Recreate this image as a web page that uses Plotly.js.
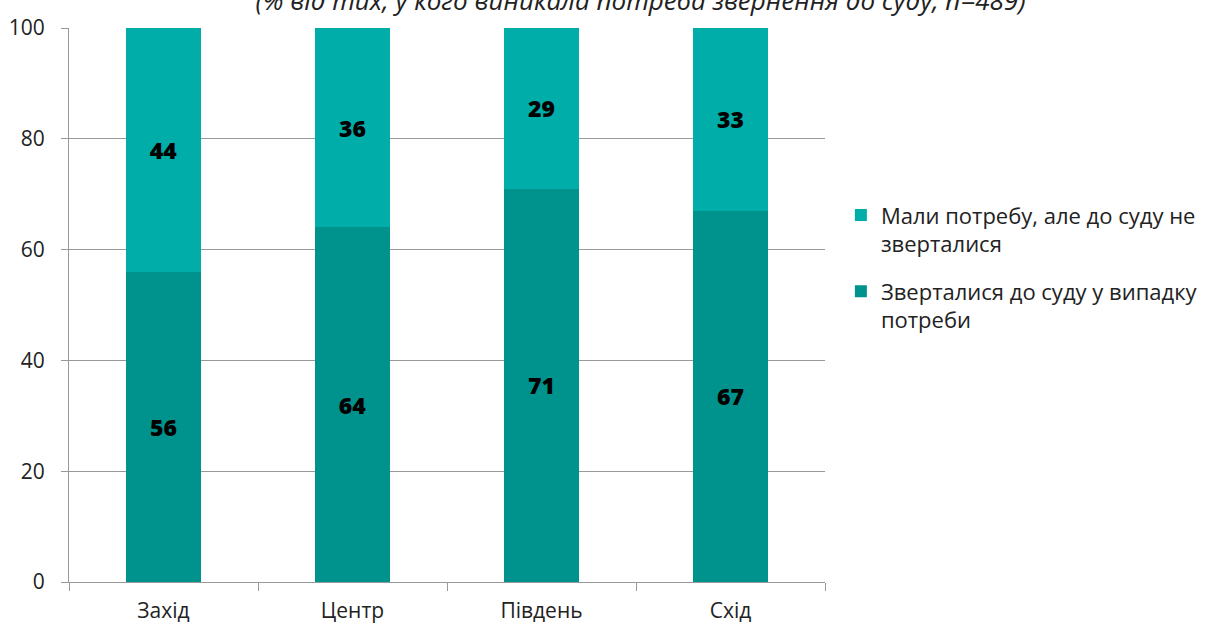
<!DOCTYPE html>
<html>
<head>
<meta charset="utf-8">
<script src="https://cdn.plot.ly/plotly-3.0.1.min.js"></script>
<style>html,body{margin:0;padding:0;background:#fff}#chart{width:1220px;height:623px}</style>
</head>
<body>
<div id="chart"></div>
<script>
const regions = ["Захід", "Центр", "Південь", "Схід"];
const appealed = [56, 64, 71, 67];
const notAppealed = [44, 36, 29, 33];
const nameAppealed = "Зверталися до суду у випадку<br>потреби";
const nameNotAppealed = "Мали потребу, але до суду не<br>зверталися";
const titleText = "(% від тих, у кого виникала потреба звернення до суду, n=489)";

const font = "'Open Sans', sans-serif";
const labelFont = {color: "#000", size: 23, family: font, weight: 800};
const traces = [
  {type: "bar", x: regions, y: appealed, name: nameAppealed, legendgroup: "a", legendrank: 2,
   marker: {color: "#00928C"}, text: appealed.map(String), textposition: "inside",
   insidetextanchor: "middle", textfont: labelFont, width: 0.4},
  {type: "bar", x: regions, y: notAppealed, name: nameNotAppealed, legendgroup: "b", legendrank: 1,
   marker: {color: "#00ADA8"}, text: notAppealed.map(String), textposition: "inside",
   insidetextanchor: "middle", textfont: labelFont, width: 0.4}
];
const layout = {
  width: 1220, height: 623,
  margin: {l: 69, r: 395, t: 28, b: 41},
  barmode: "stack",
  paper_bgcolor: "#fff", plot_bgcolor: "#fff",
  font: {family: font, size: 21, color: "#222"},
  title: {text: titleText, font: {family: font, size: 26, style: "italic", color: "#222"},
          x: 0.525, xanchor: "center", y: 0.998, yanchor: "middle", yref: "container"},
  xaxis: {type: "category", tickson: "boundaries", ticks: "outside", ticklen: 8,
          tickcolor: "#999", showline: true, linecolor: "#999", linewidth: 1,
          showgrid: false, tickfont: {size: 21, color: "#222"}, ticklabelstandoff: 10, fixedrange: true},
  yaxis: {range: [0, 100], tickvals: [0, 20, 40, 60, 80, 100], ticks: "outside", ticklen: 7,
          tickcolor: "#999", showline: true, linecolor: "#999", linewidth: 1,
          gridcolor: "#999", gridwidth: 1, zeroline: false, tickfont: {size: 21, color: "#222"},
          ticklabelstandoff: 12, fixedrange: true},
  legend: {x: 1.021, xanchor: "left", y: 0.70, yanchor: "top", traceorder: "grouped",
           tracegroupgap: 16, valign: "top", font: {size: 22, color: "#222"}, itemwidth: 30},
  showlegend: true
};
Plotly.newPlot("chart", traces, layout, {displayModeBar: false, staticPlot: true});
</script>
</body>
</html>
